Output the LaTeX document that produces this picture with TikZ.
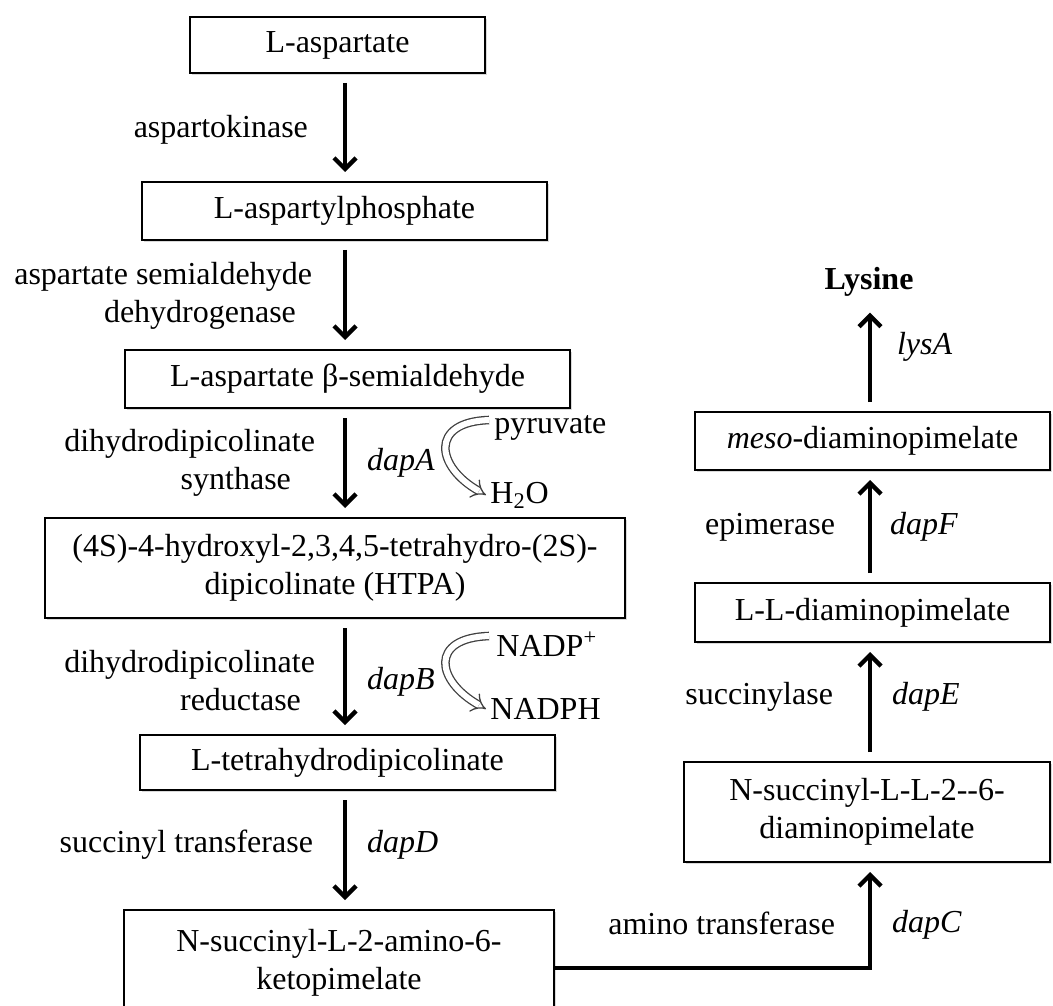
\documentclass[tikz,border=0pt]{standalone}
\usepackage{fontspec}
\setmainfont{Liberation Serif}
\usetikzlibrary{arrows.meta,shadows}
\begin{document}
\begin{tikzpicture}[x=0.5pt, y=-0.5pt,
    every node/.style={font=\fontsize{16}{19}\selectfont},
    box/.style={draw, line width=1pt, fill=white, inner sep=0pt, align=center,
        drop shadow={shadow xshift=1pt, shadow yshift=-1pt, opacity=0.3}},
    flow/.style={line width=2.2pt, -{Straight Barb[length=5.5pt,width=11pt]}, shorten <=4.5pt, shorten >=4.5pt},
    hollow/.style={draw=black!75, line width=0.65pt, double=white, double distance=3pt, -{Implies}}]
    \useasboundingbox (0,0) rectangle (1053,1005);
    \coordinate (colL) at (345,0);
    \coordinate (colR) at (870,0);
    \coordinate (cY) at (0,968);
    % left column
    \node[box, minimum width=147.5pt, minimum height=28pt] (asp) at (337.5,45) {L-aspartate};
    \node[box, minimum width=202.5pt, minimum height=29pt] (aspP) at (344.5,211) {L-aspartylphosphate};
    \node[box, minimum width=222.5pt, minimum height=29pt] (semi) at (347.5,379) {L-aspartate β-semialdehyde};
    \node[box, minimum width=290pt, minimum height=50pt] (htpa) at (335,568) {(4S)-4-hydroxyl-2,3,4,5-tetrahydro-(2S)-\\dipicolinate (HTPA)};
    \node[box, minimum width=207.5pt, minimum height=27.5pt] (tetra) at (347.5,762.5) {L-tetrahydrodipicolinate};
    \node[box, minimum width=215pt, minimum height=52.5pt] (keto) at (339,962.5) {N-succinyl-L-2-amino-6-\\ketopimelate};
    \draw[flow] (asp.south -| colL) -- (aspP.north -| colL);
    \draw[flow] (aspP.south -| colL) -- (semi.north -| colL);
    \draw[flow] (semi.south -| colL) -- (htpa.north -| colL);
    \draw[flow] (htpa.south -| colL) -- (tetra.north -| colL);
    \draw[flow] (tetra.south -| colL) -- (keto.north -| colL);
    \node[anchor=east] (ak) at (315,130) {aspartokinase};
    \node[anchor=east, align=right] (asd) at (319,296) {aspartate semialdehyde\\dehydrogenase\hspace*{8pt}};
    \node[anchor=east, align=right] (dhs) at (322,463) {dihydrodipicolinate\\synthase\hspace*{12pt}};
    \node[anchor=west] (dapA) at (360,463) {\textit{dapA}};
    \node[anchor=east, align=right] (dhr) at (322,681) {dihydrodipicolinate\\reductase\hspace*{7pt}};
    \node[anchor=west] (dapB) at (360,682) {\textit{dapB}};
    \node[anchor=east] (st) at (320,845) {succinyl transferase};
    \node[anchor=west] (dapD) at (360,845) {\textit{dapD}};
    % cofactors
    \node[anchor=west, inner sep=1pt] (pyr) at (492,428) {pyruvate};
    \node[anchor=west, inner sep=1pt] (h2o) at (488,495) {H\textsubscript{2}O};
    \draw[hollow] ([shift={(-3,-8)}]pyr.west) .. controls +(-60,2) and +(-50,-28) .. ([xshift=-1]h2o.west);
    \node[anchor=west, inner sep=1pt] (nadp) at (494,644) {NADP\textsuperscript{+}};
    \node[anchor=west, inner sep=1pt] (nadph) at (488,709) {NADPH};
    \draw[hollow] ([shift={(-5,-8)}]nadp.west) .. controls +(-60,2) and +(-50,-28) .. ([xshift=-1]nadph.west);
    % right column
    \node (lys) at (869,282) {\textbf{Lysine}};
    \node[box, minimum width=177.5pt, minimum height=29pt] (meso) at (872.5,441) {\textit{meso}-diaminopimelate};
    \node[box, minimum width=177.5pt, minimum height=29.5pt] (LL) at (872.5,612.5) {L-L-diaminopimelate};
    \node[box, minimum width=183pt, minimum height=50pt] (nsucc) at (867,812) {N-succinyl-L-L-2-{}-6-\\diaminopimelate};
    \draw[flow] (meso.north -| colR) -- (lys.south -| colR);
    \draw[flow] (LL.north -| colR) -- (meso.south -| colR);
    \draw[flow] (nsucc.north -| colR) -- (LL.south -| colR);
    \draw[flow, shorten <=0pt] (keto.east |- cY) -| (nsucc.south -| colR);
    \node[anchor=west] (lysA) at (890,347) {\textit{lysA}};
    \node[anchor=east] (epi) at (842,527) {epimerase};
    \node[anchor=west] (dapF) at (883,527) {\textit{dapF}};
    \node[anchor=east] (suc) at (840,697) {succinylase};
    \node[anchor=west] (dapE) at (885,697) {\textit{dapE}};
    \node[anchor=east] (amt) at (842,923) {amino transferase};
    \node[anchor=west] (dapC) at (885,925) {\textit{dapC}};
\end{tikzpicture}
\end{document}
